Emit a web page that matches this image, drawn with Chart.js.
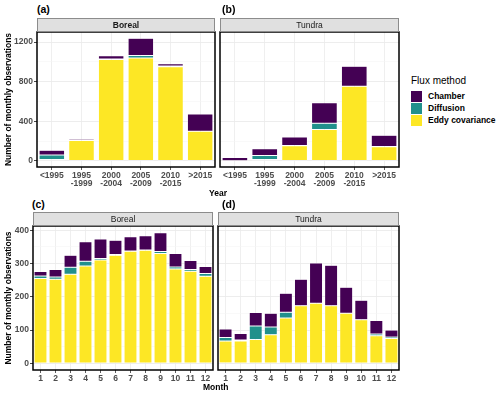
<!DOCTYPE html>
<html>
<head>
<meta charset="utf-8">
<script src="https://cdn.jsdelivr.net/npm/chart.js@4"></script>
<style>
  body { margin: 0; background: #fff; }
  #wrap { position: relative; width: 500px; height: 394px; font-family: "Liberation Sans", Arial, sans-serif; }
  canvas { position: absolute; }
  .lab { position: absolute; font-weight: bold; color: #000; white-space: nowrap; }
  .legend { position: absolute; left: 411px; top: 75px; }
  .legend .title { font-size: 10px; color: #000; margin-bottom: 4px; }
  .legend .row { height: 12px; display: flex; align-items: center; font-size: 8.5px; font-weight: bold; }
  .legend .box { width: 11px; height: 11px; margin-right: 6px; }
</style>
</head>
<body>
<div id="wrap">
  <canvas id="chartA" width="217" height="175" style="left:0;top:15px"></canvas>
  <canvas id="chartB" width="187" height="175" style="left:215px;top:15px"></canvas>
  <canvas id="chartC" width="215" height="175" style="left:0;top:210px"></canvas>
  <canvas id="chartD" width="189" height="175" style="left:213px;top:210px"></canvas>

  <div class="lab" style="left:37px;top:3px;font-size:10.5px">(a)</div>
  <div class="lab" style="left:222px;top:3px;font-size:10.5px">(b)</div>
  <div class="lab" style="left:32px;top:198px;font-size:10.5px">(c)</div>
  <div class="lab" style="left:222px;top:198px;font-size:10.5px">(d)</div>
  <div class="lab" style="left:209px;top:188px;font-size:8.5px">Year</div>
  <div class="lab" style="left:203px;top:382px;font-size:8.5px">Month</div>

  <div class="legend" id="legend"></div>
</div>

<script>
// flux methods and colours
var methods = ['Eddy covariance', 'Diffusion', 'Chamber'];
var methodColors = ['#FDE725', '#21908C', '#440154'];

// panels a/b: by year
var yearLabels = ['<1995', ['1995', '-1999'], ['2000', '-2004'], ['2005', '-2009'], ['2010', '-2015'], '>2015'];
var yearYTicks = [0, 400, 800, 1200];
var borealYearEddy = [15, 205, 1025, 1040, 952, 298];
var borealYearDiff = [45, 3, 5, 25, 6, 2];
var borealYearCham = [48, 12, 33, 175, 22, 173];
var tundraYearEddy = [2, 15, 152, 318, 753, 142];
var tundraYearDiff = [0, 38, 2, 62, 2, 2];
var tundraYearCham = [33, 70, 88, 207, 200, 114];

// panels c/d: by month
var monthLabels = ['1', '2', '3', '4', '5', '6', '7', '8', '9', '10', '11', '12'];
var monthYTicks = [0, 100, 200, 300, 400];
var borealMonthEddy = [255, 253, 268, 293, 311, 325, 337, 340, 330, 284, 277, 262];
var borealMonthDiff = [8, 7, 21, 14, 4, 2, 1, 1, 6, 6, 5, 8];
var borealMonthCham = [13, 22, 36, 59, 59, 43, 43, 43, 57, 40, 27, 21];
var tundraMonthEddy = [67, 67, 72, 86, 136, 173, 181, 173, 151, 131, 83, 75];
var tundraMonthDiff = [11, 3, 40, 23, 18, 0, 0, 0, 0, 0, 5, 4];
var tundraMonthCham = [25, 20, 41, 42, 57, 80, 121, 122, 78, 59, 41, 21];

var yTitle = 'Number of monthly observations';

// legend
var legendHtml = '<div class="title">Flux method</div>';
for (var i = methods.length - 1; i >= 0; i--) {
    legendHtml += '<div class="row"><div class="box" style="background:' + methodColors[i] + '"></div>' + methods[i] + '</div>';
}
document.getElementById('legend').innerHTML = legendHtml;

// draws the facet strip and the black panel frame
var panelPlugin = {
    id: 'panel',
    afterDraw: function(chart, args, opts) {
        var ctx = chart.ctx;
        var a = chart.chartArea;
        ctx.save();
        ctx.strokeStyle = '#000';
        ctx.lineWidth = 1.5;
        ctx.strokeRect(a.left, a.top, a.right - a.left, a.bottom - a.top);
        var h = 14;
        ctx.fillStyle = '#e0e0e0';
        ctx.fillRect(a.left, a.top - h, a.right - a.left, h);
        ctx.strokeStyle = '#8c8c8c';
        ctx.lineWidth = 1;
        ctx.strokeRect(a.left + 0.5, a.top - h + 0.5, a.right - a.left - 1, h - 1);
        ctx.fillStyle = '#1a1a1a';
        ctx.font = opts.weight + ' 8.5px "Liberation Sans", Arial, sans-serif';
        ctx.textAlign = 'center';
        ctx.textBaseline = 'middle';
        ctx.fillText(opts.strip, (a.left + a.right) / 2, a.top - h / 2 + 0.5);
        ctx.restore();
    }
};

function makeChart(id, labels, eddy, diff, cham, cfg) {
    var series = [eddy, diff, cham];
    var datasets = [];
    for (var i = 0; i < 3; i++) {
        datasets.push({
            label: methods[i],
            data: series[i],
            backgroundColor: methodColors[i],
            borderColor: 'rgba(255,255,255,0.8)',
            borderWidth: 0.5,
            borderSkipped: false,
            barPercentage: 0.86,
            categoryPercentage: 1
        });
    }
    // major ticks plus a minor grid line half way between them
    var majors = cfg.ticks;
    var allTicks = [];
    for (var k = 0; k < majors.length; k++) {
        allTicks.push({ value: majors[k], major: true });
        var step = majors[1] - majors[0];
        if (majors[k] + step / 2 < cfg.max) allTicks.push({ value: majors[k] + step / 2, major: false });
    }
    var isMajor = function(c) { return c.tick && majors.indexOf(c.tick.value) >= 0; };
    var tickFont = { family: '"Liberation Sans", Arial, sans-serif', size: 8.5, weight: 'bold', lineHeight: 1.0 };
    return new Chart(document.getElementById(id), {
        type: 'bar',
        data: { labels: labels, datasets: datasets },
        plugins: [panelPlugin],
        options: {
            responsive: false,
            animation: false,
            devicePixelRatio: 1,
            layout: { padding: { top: cfg.top, right: cfg.right, left: 0, bottom: 0 } },
            plugins: {
                legend: { display: false },
                tooltip: { enabled: false },
                panel: { strip: cfg.strip, weight: cfg.stripWeight }
            },
            scales: {
                x: {
                    stacked: true,
                    grid: { offset: false, color: '#ebebeb', lineWidth: 0.8, tickColor: '#333', tickLength: 3 },
                    border: { display: false },
                    ticks: { color: '#4d4d4d', font: tickFont, padding: 1, maxRotation: 0, autoSkip: false },
                    afterFit: function(s) { s.height = cfg.xh; }
                },
                y: {
                    stacked: true,
                    min: cfg.min,
                    max: cfg.max,
                    afterBuildTicks: function(s) { s.ticks = allTicks.map(function(t) { return { value: t.value }; }); },
                    grid: {
                        color: function(c) { return isMajor(c) ? '#ebebeb' : '#f5f5f5'; },
                        lineWidth: function(c) { return isMajor(c) ? 0.9 : 0.6; },
                        tickColor: function(c) { return isMajor(c) ? '#333' : 'rgba(0,0,0,0)'; },
                        tickLength: 3,
                        drawTicks: cfg.showY
                    },
                    border: { display: false },
                    ticks: {
                        display: cfg.showY,
                        autoSkip: false,
                        color: '#4d4d4d',
                        font: tickFont,
                        padding: 1,
                        callback: function(v) { return majors.indexOf(v) >= 0 ? String(v) : ''; }
                    },
                    title: {
                        display: cfg.showY,
                        text: yTitle,
                        color: '#000',
                        font: { family: '"Liberation Sans", Arial, sans-serif', size: 8.5, weight: 'bold' },
                        padding: { top: 4, bottom: 0 }
                    },
                    afterFit: function(s) { s.width = cfg.yw; }
                }
            }
        }
    });
}

makeChart('chartA', yearLabels, borealYearEddy, borealYearDiff, borealYearCham,
    { top: 17, right: 2, xh: 23, yw: 37, min: -62, max: 1302, ticks: yearYTicks, showY: true, strip: 'Boreal', stripWeight: 'bold' });
makeChart('chartB', yearLabels, tundraYearEddy, tundraYearDiff, tundraYearCham,
    { top: 17, right: 3, xh: 23, yw: 5, min: -62, max: 1302, ticks: yearYTicks, showY: false, strip: 'Tundra', stripWeight: 'normal' });
makeChart('chartC', monthLabels, borealMonthEddy, borealMonthDiff, borealMonthCham,
    { top: 16, right: 2, xh: 15, yw: 33, min: -20, max: 413, ticks: monthYTicks, showY: true, strip: 'Boreal', stripWeight: 'normal' });
makeChart('chartD', monthLabels, tundraMonthEddy, tundraMonthDiff, tundraMonthCham,
    { top: 16, right: 3, xh: 15, yw: 5, min: -20, max: 413, ticks: monthYTicks, showY: false, strip: 'Tundra', stripWeight: 'normal' });
</script>
</body>
</html>
